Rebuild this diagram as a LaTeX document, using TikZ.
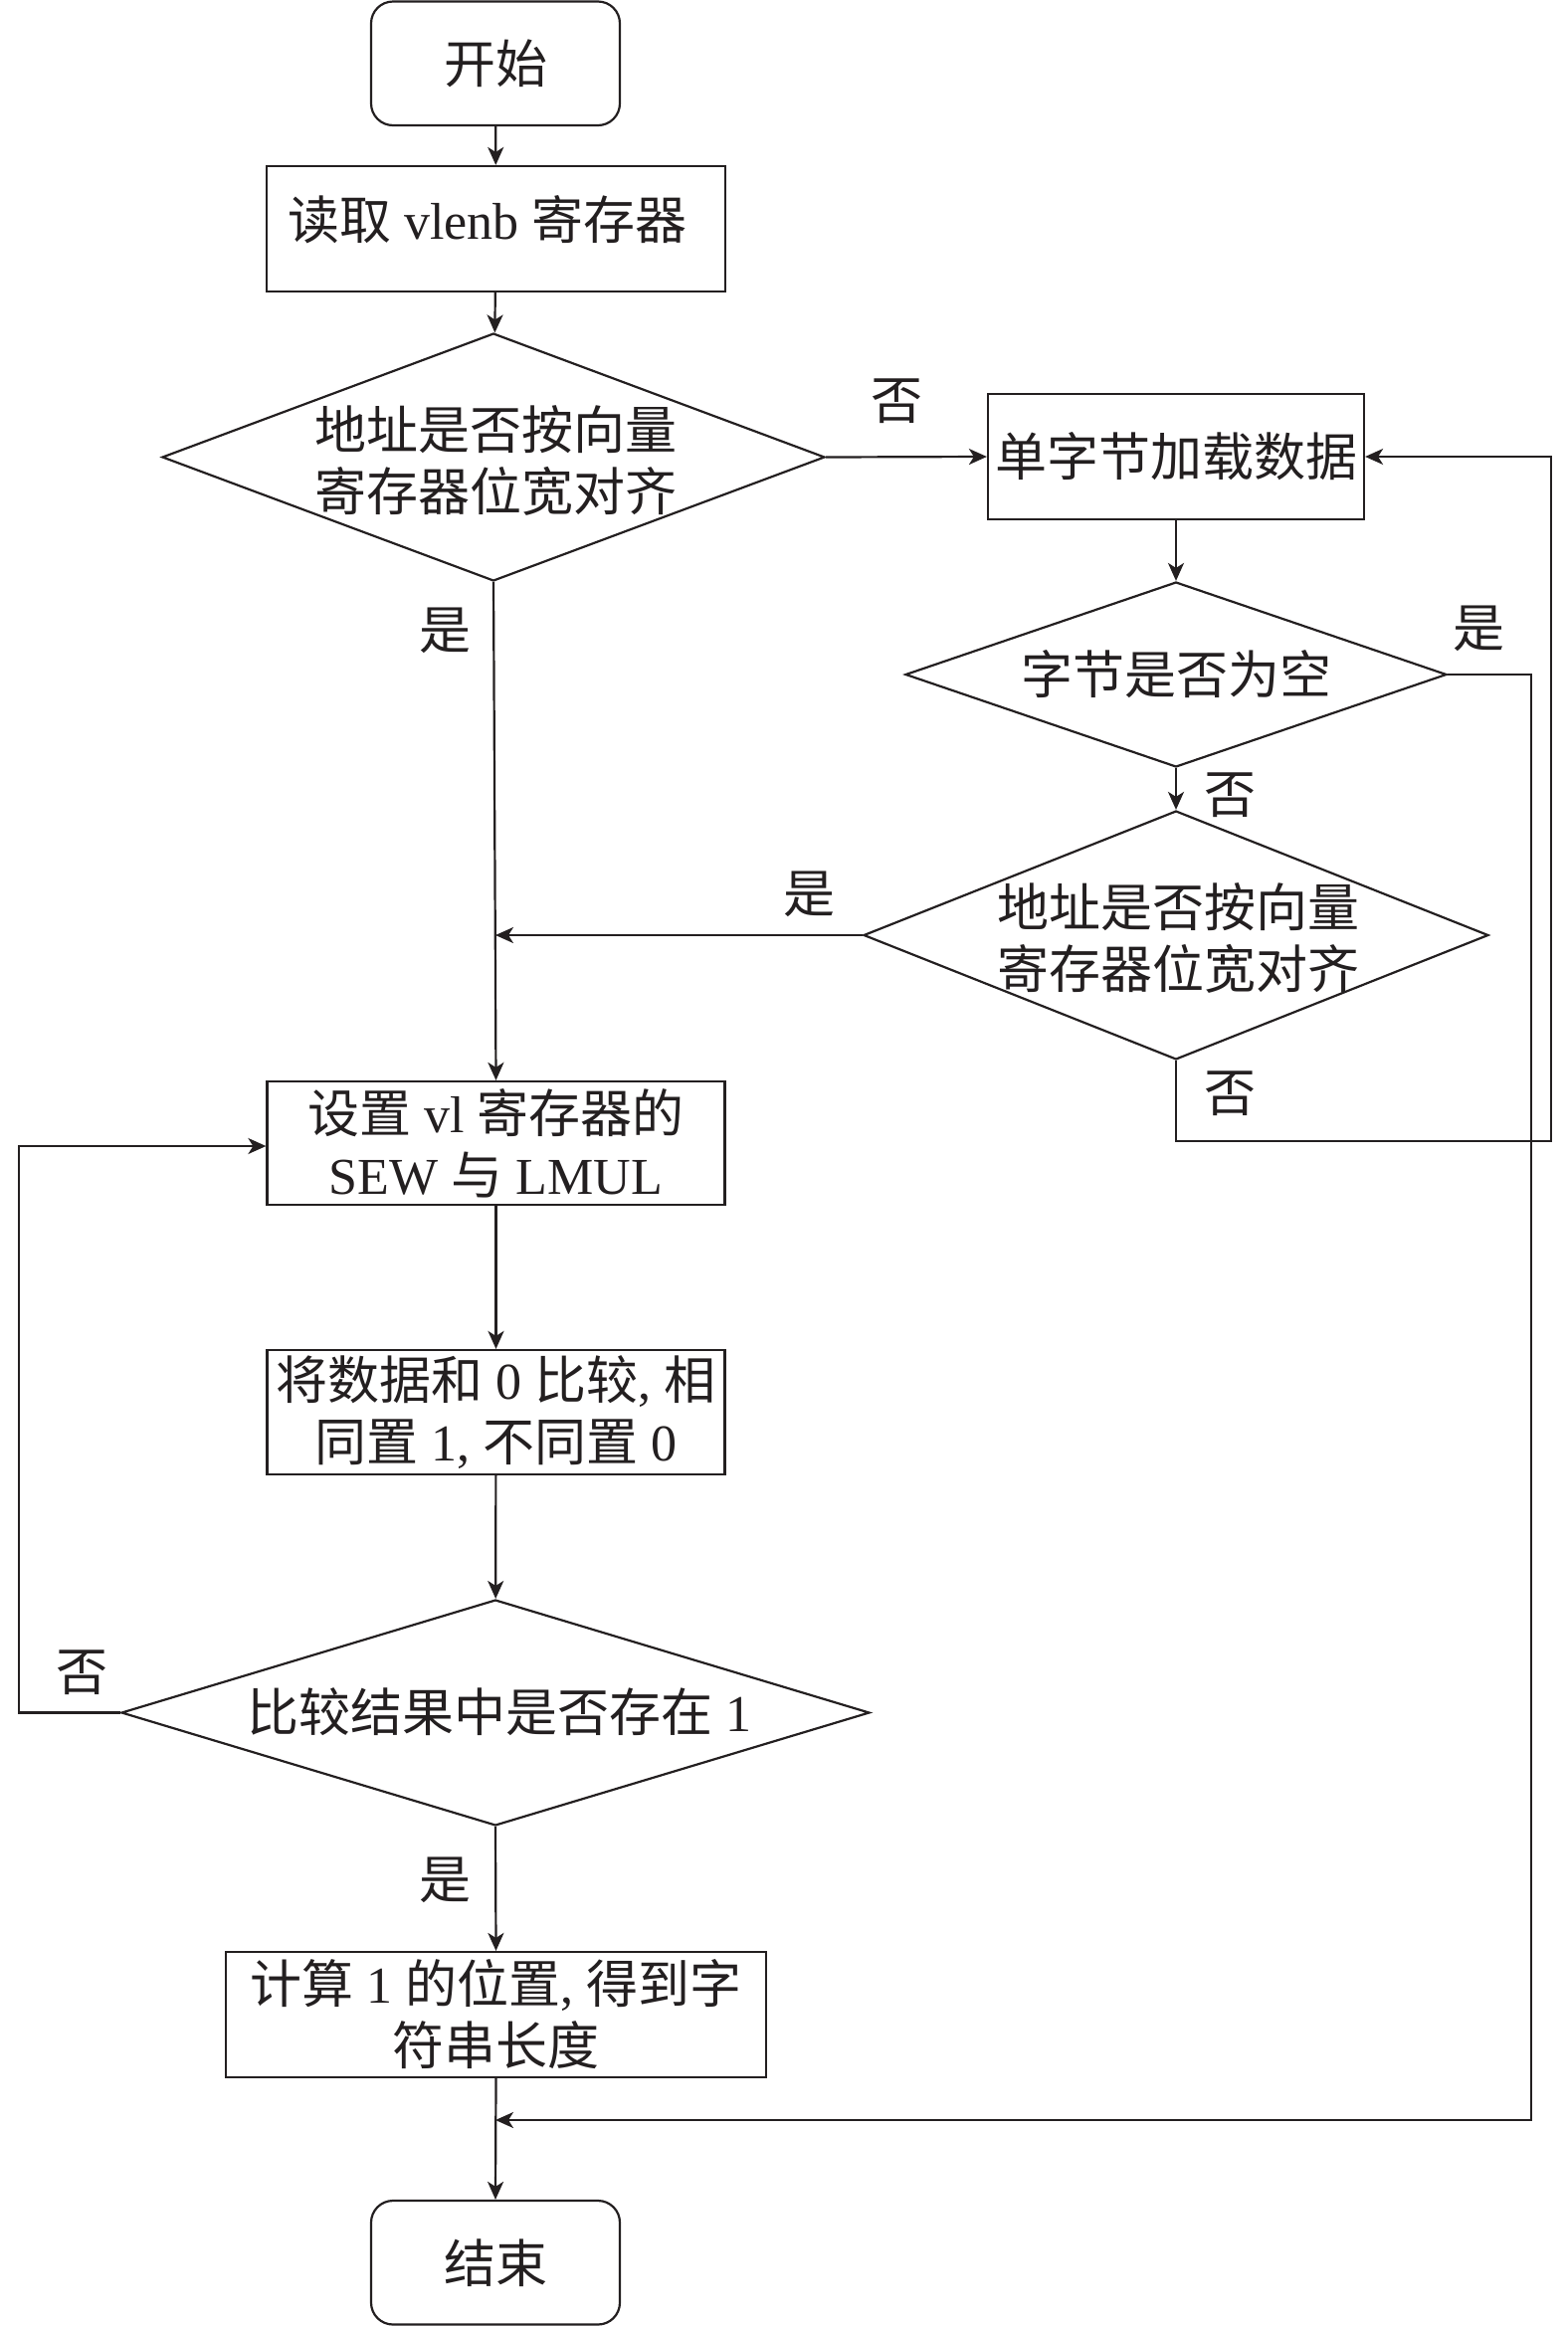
\documentclass[tikz,border=0pt]{standalone}
\usepackage{fontspec}
\setmainfont{Noto Sans CJK SC}
\newfontfamily\latinfnt{Liberation Serif}
\newcommand\LT[1]{{\latinfnt #1}}
\usetikzlibrary{shapes.geometric,arrows.meta}
\definecolor{ink}{RGB}{35,31,32}
\tikzset{
  x=1pt, y=-1pt,
  every node/.style={font=\fontsize{52}{62}\selectfont, text=ink},
  lines/.style={draw=ink, line width=2.2pt},
  arr/.style={lines, -{Stealth[length=18pt,width=16pt,inset=5pt]}},
  procbox/.style={lines, rectangle, inner sep=0pt, align=center},
  termbox/.style={lines, rectangle, rounded corners=22pt, inner sep=0pt, align=center},
  decbox/.style={lines, diamond, inner sep=0pt},
  txt/.style={inner sep=0pt, align=center},
  lab/.style={inner sep=0pt}
}
\begin{document}
\begin{tikzpicture}
\useasboundingbox (0,0) rectangle (1575,2338);

% main column
\node[termbox, minimum width=250pt, minimum height=124.5pt] (start) at (498,63.75) {开始};
\node[procbox, minimum width=461pt, minimum height=126pt] (read) at (498.5,230) {};
\node[txt] (readt) at (490,221) {读取\LT{ vlenb }寄存器};
\node[decbox, minimum width=666pt, minimum height=249pt] (d1) at (496,459.5) {};
\node[txt] (d1t) at (498,462.5) {地址是否按向量\\寄存器位宽对齐};

\node[procbox, minimum width=460pt, minimum height=124pt] (setvl) at (498.5,1149) {设置\LT{ vl }寄存器的\\\LT{SEW }与\LT{ LMUL}};
\node[procbox, minimum width=460pt, minimum height=125pt] (cmp) at (498.5,1419.5) {将数据和\LT{ 0 }比较\LT{, }相\\同置\LT{ 1, }不同置\LT{ 0}};
\node[decbox, minimum width=752pt, minimum height=227pt] (d4) at (498,1721.5) {};
\node[txt] (d4t) at (502,1721) {比较结果中是否存在\LT{ 1}};
\node[procbox, minimum width=543pt, minimum height=126pt] (calc) at (498.5,2025) {计算\LT{ 1 }的位置\LT{, }得到字\\符串长度};
\node[termbox, minimum width=250pt, minimum height=124.5pt] (fin) at (498,2274.25) {结束};

% right column
\node[procbox, minimum width=378pt, minimum height=126pt] (load) at (1182,459) {单字节加载数据};
\node[decbox, minimum width=544pt, minimum height=186pt] (d2) at (1182,678) {};
\node[txt] (d2t) at (1182,678) {字节是否为空};
\node[decbox, minimum width=628pt, minimum height=250pt] (d3) at (1182,940) {};
\node[txt] (d3t) at (1184,942.5) {地址是否按向量\\寄存器位宽对齐};

% helper coordinates
\coordinate (j1) at (498,940);
\coordinate (j2) at (498,2131);
\coordinate (rr) at (1559,1147);
\coordinate (rr2) at (1539,2131);
\coordinate (ll) at (19,1152);

% connectors
\draw[arr] (start) -- (read);
\draw[arr] (read) -- (d1);
\draw[arr] (d1.east) -- (load.west);
\draw[arr] (d1.south) -- (setvl.north);
\draw[arr] (load) -- (d2);
\draw[arr] (d2.south) -- (d3.north);
\draw[arr] (d3.west) -- (j1);
\draw[arr] (d3.south) |- (rr) |- (load.east);
\draw[arr] (d2.east) -| (rr2) -- (j2);
\draw[arr] (setvl) -- (cmp);
\draw[arr] (cmp) -- (d4);
\draw[arr] (d4.west) -| (ll) -- (setvl.west |- ll);
\draw[arr] (d4.south) -- (calc.north);
\draw[arr] (calc.south) -- (fin.north);

% labels
\node[lab] (l1) at (901,403) {否};
\node[lab] (l2) at (447,634) {是};
\node[lab] (l3) at (1486,632) {是};
\node[lab] (l4) at (1236,799) {否};
\node[lab] (l5) at (813,899) {是};
\node[lab] (l6) at (1236,1099) {否};
\node[lab] (l7) at (82,1681) {否};
\node[lab] (l8) at (447,1890) {是};
\end{tikzpicture}
\end{document}
